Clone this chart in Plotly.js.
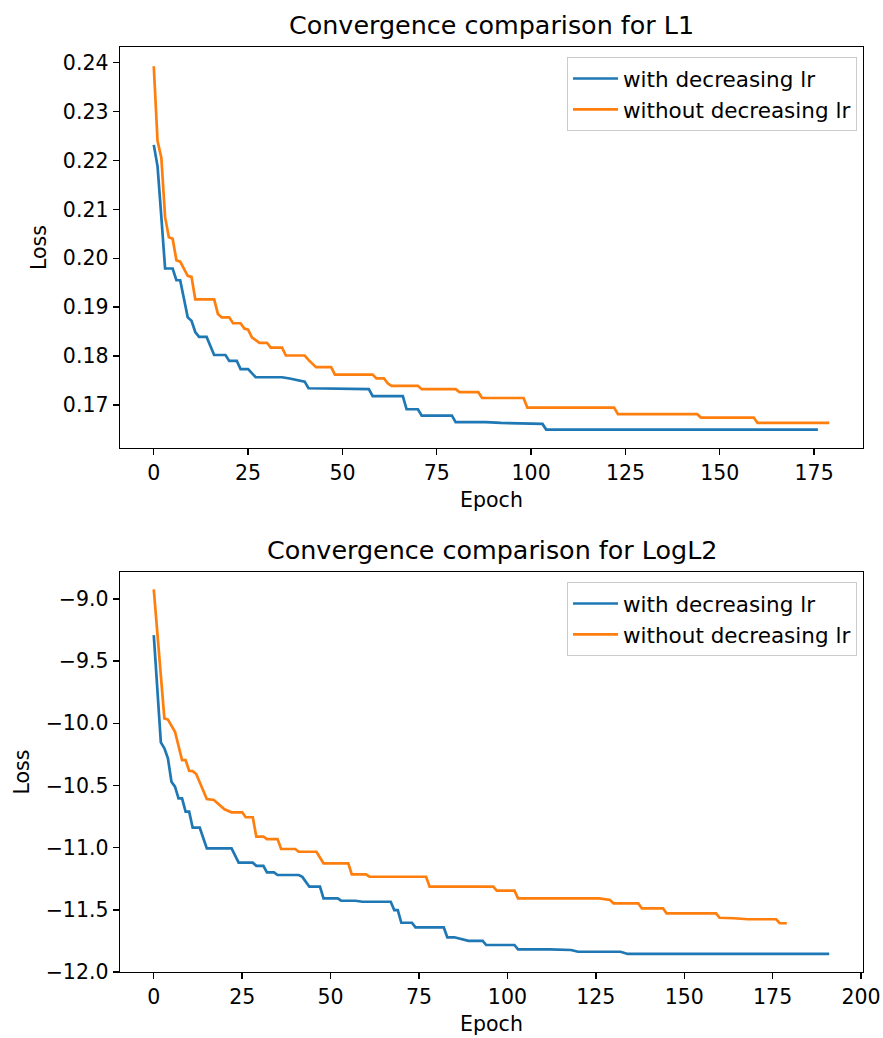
<!DOCTYPE html>
<html>
<head>
<meta charset="utf-8">
<script src="https://cdn.plot.ly/plotly-3.0.1.min.js"></script>
<style>html,body{margin:0;padding:0;background:#fff;}#chart{width:883px;height:1038px;}</style>
</head>
<body>
<div id="chart"></div>
<script>
// ---- Data: L1 (top panel) ----
const l1WithEpoch = [0,1,2,3,5,6,7,9,10,11,12,14,16,19,20,22,23,25,27,34,36,40,41,54,57,58,66,67,70,71,79,80,88,92,99,103,104,176];
const l1WithLoss = [0.2232,0.2188,0.2085,0.1979,0.1979,0.1955,0.1955,0.1879,0.1872,0.1849,0.1839,0.1839,0.1802,0.1802,0.1790,0.1790,0.1773,0.1773,0.17565,0.17565,0.1754,0.17475,0.1734,0.1732,0.1732,0.1718,0.1718,0.1691,0.1691,0.1678,0.1678,0.16647,0.16647,0.1663,0.1662,0.1661,0.16495,0.16495];
const l1WithoutEpoch = [0,1,2,3,4,5,6,7,9,10,11,16,17,18,20,21,23,24,25,26,28,30,31,34,35,40,41,43,47,48,58,59,61,62,63,70,71,80,81,86,87,98,99,122,123,144,145,159,160,179];
const l1WithoutLoss = [0.2393,0.2240,0.2206,0.2084,0.2043,0.2040,0.1996,0.1993,0.1964,0.1962,0.1916,0.1916,0.1886,0.1879,0.1879,0.1867,0.1867,0.1856,0.1854,0.1838,0.1827,0.1827,0.1817,0.1817,0.1801,0.1801,0.1792,0.1777,0.1777,0.1762,0.1762,0.1754,0.1754,0.1744,0.1739,0.1739,0.1732,0.1732,0.1726,0.1726,0.1714,0.1714,0.16945,0.16945,0.1681,0.1681,0.1674,0.1674,0.1663,0.1663];

// ---- Data: LogL2 (bottom panel) ----
const logWithEpoch = [0,1,2,3,4,5,6,7,8,9,10,11,13,15,22,24,28,29,31,32,34,35,41,42,43,44,47,48,52,53,57,59,67,68,69,70,73,74,82,83,85,87,89,93,94,102,103,112,118,120,132,134,191];
const logWithLoss = [-9.291,-9.72,-10.154,-10.202,-10.282,-10.47,-10.51,-10.604,-10.604,-10.71,-10.71,-10.84,-10.84,-11.006,-11.006,-11.121,-11.121,-11.146,-11.146,-11.199,-11.199,-11.22,-11.22,-11.235,-11.275,-11.314,-11.314,-11.408,-11.408,-11.427,-11.427,-11.435,-11.435,-11.502,-11.502,-11.604,-11.604,-11.641,-11.641,-11.721,-11.721,-11.737,-11.749,-11.749,-11.783,-11.783,-11.818,-11.818,-11.823,-11.837,-11.837,-11.855,-11.855];
const logWithoutEpoch = [0,3,4,5,6,8,9,10,11,12,14,15,17,20,22,25,26,28,29,31,32,35,36,40,41,46,48,55,56,60,61,77,78,96,97,102,103,126,129,130,137,138,144,145,159,160,164,168,176,177,179];
const logWithoutLoss = [-8.924,-9.961,-9.97,-10.015,-10.068,-10.296,-10.296,-10.382,-10.385,-10.408,-10.543,-10.609,-10.617,-10.692,-10.716,-10.716,-10.756,-10.756,-10.912,-10.912,-10.931,-10.931,-11.011,-11.011,-11.033,-11.033,-11.126,-11.126,-11.215,-11.215,-11.234,-11.234,-11.314,-11.314,-11.346,-11.346,-11.408,-11.408,-11.421,-11.448,-11.448,-11.488,-11.488,-11.528,-11.528,-11.564,-11.568,-11.576,-11.576,-11.608,-11.608];

const seriesNames = ['with decreasing lr', 'without decreasing lr'];
const panelTitles = ['Convergence comparison for L1', 'Convergence comparison for LogL2'];
const xTitle = 'Epoch';
const yTitle = 'Loss';

const BLUE = '#1f77b4', ORANGE = '#ff7f0e';
const FONT = 'DejaVu Sans, sans-serif';
const W = 883, H = 1038;
const lw = 2.7;
const FS = 20.5, LFS = 21.5, TFS = 25.4;

const traces = [
  {x: l1WithEpoch, y: l1WithLoss, name: seriesNames[0], mode: 'lines', line: {color: BLUE, width: lw}, xaxis: 'x', yaxis: 'y', legend: 'legend'},
  {x: l1WithoutEpoch, y: l1WithoutLoss, name: seriesNames[1], mode: 'lines', line: {color: ORANGE, width: lw}, xaxis: 'x', yaxis: 'y', legend: 'legend'},
  {x: logWithEpoch, y: logWithLoss, name: seriesNames[0], mode: 'lines', line: {color: BLUE, width: lw}, xaxis: 'x2', yaxis: 'y2', legend: 'legend2'},
  {x: logWithoutEpoch, y: logWithoutLoss, name: seriesNames[1], mode: 'lines', line: {color: ORANGE, width: lw}, xaxis: 'x2', yaxis: 'y2', legend: 'legend2'}
];

const px = v => v / W;
const py = v => 1 - v / H;

function axisBase() {
  return {
    showline: true, linecolor: '#000', linewidth: 1.4, mirror: true,
    ticks: 'outside', ticklen: 6, tickwidth: 1.4, tickcolor: '#000',
    showgrid: false, zeroline: false, automargin: false,
    tickfont: {family: FONT, size: FS, color: '#000'}
  };
}

const xDomain = [px(120), px(863)];
const legendBase = {xanchor: 'right', yanchor: 'top', bgcolor: 'rgba(255,255,255,0.8)', bordercolor: '#cccccc', borderwidth: 1, font: {family: FONT, size: LFS, color: '#000'}, tracegroupgap: 0, itemwidth: 45};
const layout = {
  width: W, height: H,
  margin: {l: 0, r: 0, t: 0, b: 0},
  paper_bgcolor: '#fff', plot_bgcolor: '#fff',
  font: {family: FONT, color: '#000'},
  showlegend: true,
  xaxis: Object.assign(axisBase(), {domain: xDomain, anchor: 'y', range: [-8.95, 187.95], tick0: 0, dtick: 25, title: {text: xTitle, font: {family: FONT, size: FS, color: '#000'}, standoff: 8}}),
  yaxis: Object.assign(axisBase(), {domain: [py(448), py(47)], anchor: 'x', range: [0.16117, 0.24323], tick0: 0.17, dtick: 0.01, tickformat: '.2f', title: {text: yTitle, font: {family: FONT, size: FS, color: '#000'}, standoff: 10}}),
  xaxis2: Object.assign(axisBase(), {domain: xDomain, anchor: 'y2', range: [-9.55, 200.55], tick0: 0, dtick: 25, title: {text: xTitle, font: {family: FONT, size: FS, color: '#000'}, standoff: 8}}),
  yaxis2: Object.assign(axisBase(), {domain: [py(972), py(572)], anchor: 'x2', range: [-12.0, -8.784], tick0: -12, dtick: 0.5, tickformat: '.1f', title: {text: yTitle, font: {family: FONT, size: FS, color: '#000'}, standoff: 10}}),
  legend: Object.assign({x: px(857), y: py(57)}, legendBase),
  legend2: Object.assign({x: px(857), y: py(582)}, legendBase),
  annotations: [
    {text: panelTitles[0], xref: 'paper', yref: 'paper', x: (xDomain[0] + xDomain[1]) / 2, y: py(42), xanchor: 'center', yanchor: 'bottom', showarrow: false, font: {family: FONT, size: TFS, color: '#000'}},
    {text: panelTitles[1], xref: 'paper', yref: 'paper', x: (xDomain[0] + xDomain[1]) / 2, y: py(567), xanchor: 'center', yanchor: 'bottom', showarrow: false, font: {family: FONT, size: TFS, color: '#000'}}
  ]
};

Plotly.newPlot('chart', traces, layout, {displayModeBar: false, staticPlot: true});
</script>
</body>
</html>
